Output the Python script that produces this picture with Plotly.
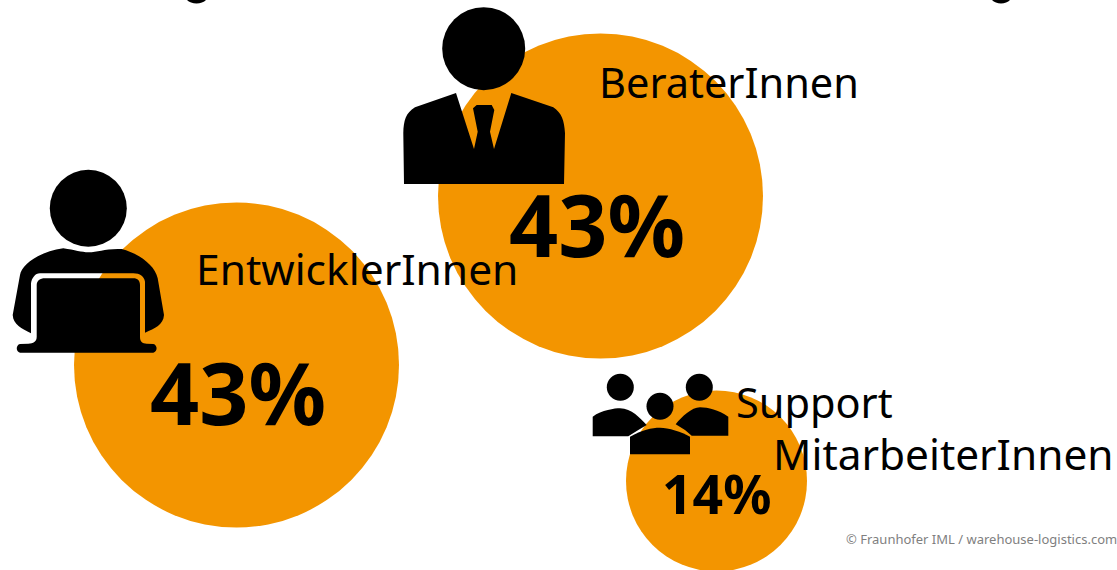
import plotly.graph_objects as go

# --- data ---
roles = ["EntwicklerInnen", "BeraterInnen", "Support<br>MitarbeiterInnen"]
shares = [43, 43, 14]
bubble_x = [236.5, 600.5, 716.5]
bubble_y = [365, 196, 481]
bubble_diameter = [325, 325, 181]
credit = "© Fraunhofer IML / warehouse-logistics.com"

ORANGE = "#f39500"
FONT = "Noto Sans"


def zpath(ox, oy, pts):
    """Translate a path drawn on a 3x crop back to page pixels."""
    out = []
    for tok in pts.split():
        if "," in tok:
            a, b = tok.split(",")
            out.append(f"{ox + float(a) / 3:.1f},{oy + float(b) / 3:.1f}")
        else:
            out.append(tok)
    return " ".join(out)


def circle(cx, cy, r):
    return dict(type="circle", xref="x", yref="y", x0=cx - r, x1=cx + r, y0=cy - r, y1=cy + r,
                fillcolor="black", line_width=0, layer="above")


def path(p):
    return dict(type="path", xref="x", yref="y", path=p, fillcolor="black", line_width=0, layer="above")


suit = ("M 27,552 L 25,400 C 26,360 32,340 60,322 L 183,279 L 237,447 L 248,395 L 234,325 L 245,315 "
        "L 290,315 L 298,330 L 285,395 L 297,447 L 349,279 L 475,322 C 500,340 508,360 510,400 L 507,552 Z")
arch = ("M 78,505 C 50,490 25,480 23,450 L 45,330 C 50,300 100,260 175,250 C 210,255 230,262 250,262 "
        "C 280,262 300,250 350,252 C 400,265 450,300 458,340 L 477,450 C 475,480 450,490 420,503 "
        "L 420,350 C 418,335 405,325 385,325 L 105,325 C 90,325 80,340 78,355 Z")
laptop = ("M 95,360 C 95,348 105,340 120,340 L 385,340 C 398,340 405,348 405,360 L 405,515 C 405,530 412,535 425,536 "
          "L 445,537 C 458,540 458,560 445,563 L 45,563 C 32,560 32,540 45,537 L 70,536 C 85,535 95,530 95,515 Z")
body_l = "M 23,214 L 23,155 C 50,135 90,130 105,130 C 140,130 165,160 185,180 L 160,195 L 130,214 Z"
body_r = "M 430,212 L 430,155 C 400,135 370,127 345,127 C 320,127 290,155 272,178 L 300,195 L 320,212 Z"
body_c = "M 135,268 L 135,215 C 170,195 200,188 225,188 C 250,188 290,200 315,215 L 315,268 Z"

shapes = [
    circle(483.7, 48.7, 41.5), path(zpath(395, 0, suit)),
    circle(88.3, 208.3, 38.5), path(zpath(5, 165, arch)), path(zpath(5, 165, laptop)),
    circle(620.3, 387.3, 13.5), circle(699.3, 387.3, 13.5), circle(660, 406.3, 13.5),
    path(zpath(585, 365, body_l)), path(zpath(585, 365, body_r)), path(zpath(585, 365, body_c)),
    # descenders of the cropped headline at the top edge
    path("M 187,0 C 191,4.5 202,4.5 206,0 Z"), path("M 992,0 C 996,4.5 1006,4.5 1010,0 Z"),
]

fig = go.Figure(go.Scatter(
    x=bubble_x, y=bubble_y, mode="markers",
    marker=dict(size=bubble_diameter, color=ORANGE, line_width=0, opacity=1),
    hoverinfo="skip", showlegend=False,
))

ann = []
label_pos = [(194, 268, 42.5), (597, 82, 41.5), (734, 402, 41.5)]
pct_pos = [(238, 391, 86), (597, 223, 86), (716, 493, 53.5)]
for role, share, (lx, ly, ls), (px, py, ps) in zip(roles, shares, label_pos, pct_pos):
    ann.append(dict(x=px, y=py, text=f"<b>{share}%</b>", showarrow=False, xanchor="center", yanchor="middle",
                    font=dict(family=FONT, size=ps, color="black")))
    if "<br>" in role:
        first, second = role.split("<br>")
        ann.append(dict(x=lx, y=ly, text=first, showarrow=False, xanchor="left", yanchor="middle",
                        font=dict(family=FONT, size=ls, color="black")))
        ann.append(dict(x=771, y=453, text=second, showarrow=False, xanchor="left", yanchor="middle",
                        font=dict(family=FONT, size=42.4, color="black")))
    else:
        ann.append(dict(x=lx, y=ly, text=role, showarrow=False, xanchor="left", yanchor="middle",
                        font=dict(family=FONT, size=ls, color="black")))
ann.append(dict(x=1117, y=539, text=credit, showarrow=False, xanchor="right", yanchor="middle", borderpad=0, xshift=1,
                font=dict(family=FONT, size=13, color="#7f7f7f")))

fig.update_layout(
    width=1117, height=570, margin=dict(l=0, r=0, t=0, b=0),
    paper_bgcolor="white", plot_bgcolor="white",
    xaxis=dict(range=[0, 1117], visible=False, fixedrange=True),
    yaxis=dict(range=[570, 0], visible=False, fixedrange=True),
    shapes=shapes, annotations=ann, showlegend=False,
)
fig.write_html("out.html", config=dict(displayModeBar=False),
               post_script="document.body.style.margin='0';document.documentElement.style.overflow='hidden';")
